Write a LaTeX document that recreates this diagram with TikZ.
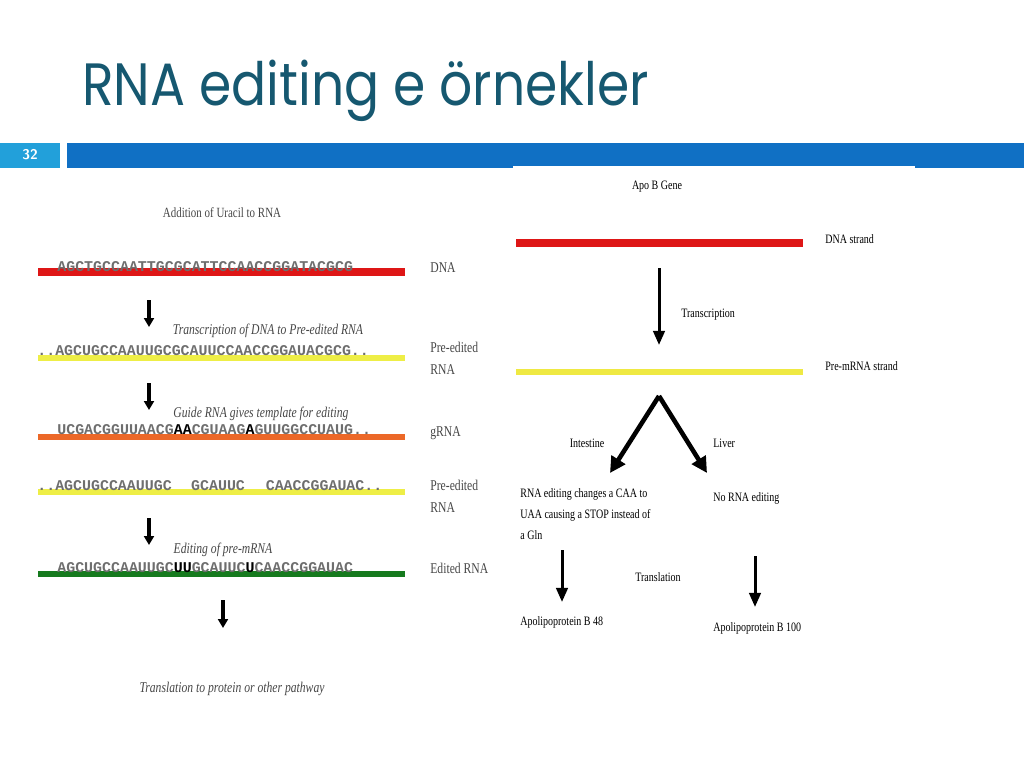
\documentclass[tikz,border=0pt]{standalone}
\usepackage{fontspec}
\setmainfont{Liberation Serif}
\newfontfamily\titlefont[FakeStretch=0.87]{Poppins}
\newfontfamily\narrowfont[FakeStretch=0.78]{Liberation Serif}
\newfontfamily\seqfont{Liberation Mono}
\usepackage{tikz}
\usepackage{xcolor}
\usetikzlibrary{arrows.meta,positioning,calc}

\definecolor{titleblue}{RGB}{22,88,112}
\definecolor{barblue}{RGB}{16,112,196}
\definecolor{numblue}{RGB}{34,160,218}
\definecolor{dnared}{RGB}{222,22,22}
\definecolor{rnayellow}{RGB}{238,238,70}
\definecolor{grnaorange}{RGB}{236,104,40}
\definecolor{editgreen}{RGB}{22,122,30}
\definecolor{seqgray}{RGB}{110,110,110}
\definecolor{labelgray}{RGB}{70,70,70}

\begin{document}
\begin{tikzpicture}[x=0.02cm,y=-0.02cm,
    seq/.style={anchor=base west, inner sep=0pt, text=seqgray, font=\seqfont\bfseries\fontsize{8.5}{10}\selectfont},
    side/.style={anchor=west, inner sep=0pt, text=labelgray, align=left, font=\narrowfont\fontsize{8.5}{12.5}\selectfont},
    note/.style={inner sep=0pt, text=labelgray, font=\narrowfont\itshape\fontsize{8.5}{10}\selectfont},
    txt/.style={anchor=west, inner sep=0pt, align=left, font=\narrowfont\fontsize{7.3}{12}\selectfont},
    strand/.style={line width=#1},
    down/.style={-{Triangle[length=5pt,width=5.5pt]}, line width=1.9pt},
    bigdown/.style={-{Triangle[length=8pt,width=6.5pt]}, line width=1.7pt},
    fork/.style={-{Triangle[length=9pt,width=9pt]}, line width=2.6pt}]
    \useasboundingbox (0,0) rectangle (1024,768);

    % Title and bar
    \node[anchor=base west, inner sep=0pt, text=titleblue, font=\titlefont\fontsize{34}{40}\selectfont] (title) at (82,105) {RNA editing e örnekler};
    \fill[numblue] (0,143) rectangle (60,168);
    \fill[barblue] (67,143) rectangle (1024,168);
    \fill[white] (513,166) rectangle (915,169);
    \node[text=white, font=\sffamily\bfseries\fontsize{8}{9}\selectfont] (slidenum) at (30,155) {32};

    % Left: uracil addition
    \node[note, font=\narrowfont\fontsize{8}{10}\selectfont] (uracil) at (222,213) {Addition of Uracil to RNA};

    \draw[strand=4.5pt, dnared] (38,272) -- (405,272);
    \node[seq] (dnaseq) at (57,271) {AGCTGCCAATTGCGCATTCCAACCGGATACGCG};
    \node[side] (dnalab) at (430,268) {DNA};

    \coordinate (a1top) at (149,300);
    \coordinate (a1tip) at (149,327);
    \draw[down] (a1top) -- (a1tip);
    \node[note] (transnote) at (268,331) {Transcription of DNA to Pre-edited RNA};
    \draw[strand=3.5pt, rnayellow] (38,358) -- (405,358);
    \node[seq] (preseq) at (37,355) {..AGCUGCCAAUUGCGCAUUCCAACCGGAUACGCG..};
    \node[side] (prelab) at (430,358) {Pre-edited\\RNA};

    \coordinate (a2top) at (149,383);
    \coordinate (a2tip) at (149,410);
    \draw[down] (a2top) -- (a2tip);
    \node[note] (guidenote) at (261,414) {Guide RNA gives template for editing};
    \draw[strand=3.5pt, grnaorange] (38,437) -- (405,437);
    \node[seq] (gseq) at (57,434) {UCGACGGUUAACG\textcolor{black}{AA}CGUAAG\textcolor{black}{A}GUUGGCCUAUG..};
    \node[side] (glab) at (430,433) {gRNA};

    \draw[strand=3.5pt, rnayellow] (38,492) -- (405,492);
    \node[seq] (gapseq) at (37,490) {..AGCUGCCAAUUGC\hspace{1.3em}GCAUUC\hspace{1.4em}CAACCGGAUAC..};
    \node[side] (gaplab) at (430,496) {Pre-edited\\RNA};

    \coordinate (a3top) at (149,518);
    \coordinate (a3tip) at (149,545);
    \draw[down] (a3top) -- (a3tip);
    \node[note] (editnote) at (223,550) {Editing of pre-mRNA};
    \draw[strand=3.5pt, editgreen] (38,574) -- (405,574);
    \node[seq] (edseq) at (57,572) {AGCUGCCAAUUGC\textcolor{black}{UU}GCAUUC\textcolor{black}{U}CAACCGGAUAC};
    \node[side] (edlab) at (430,568) {Edited RNA};

    \coordinate (a4top) at (223,600);
    \coordinate (a4tip) at (223,628);
    \draw[down] (a4top) -- (a4tip);
    \node[note] (protnote) at (232,689) {Translation to protein or other pathway};

    % Right: Apo B
    \node[txt, anchor=center] (apob) at (657,187) {Apo B Gene};
    \draw[strand=4pt, dnared] (516,243) -- (803,243);
    \node[txt] (dnastrand) at (825,239) {DNA strand};
    \coordinate (t1top) at (659,268);
    \coordinate (t1tip) at (659,345);
    \draw[bigdown] (t1top) -- (t1tip);
    \node[txt] (transcr) at (681,315) {Transcription};
    \draw[strand=3.5pt, rnayellow!95!orange] (516,372) -- (803,372);
    \node[txt] (prestrand) at (825,366) {Pre-mRNA strand};

    \coordinate (apex) at (659,396);
    \coordinate (lefttip) at (610,473);
    \coordinate (righttip) at (707,473);
    \draw[fork] (apex) -- (lefttip);
    \draw[fork] (apex) -- (righttip);
    \node[txt, anchor=center] (intestine) at (587,443) {Intestine};
    \node[txt] (liver) at (713,443) {Liver};

    \node[txt] (editing) at (520,514) {RNA editing changes a CAA to\\UAA causing a STOP instead of\\a Gln};
    \node[txt] (noedit) at (713,498) {No RNA editing};

    \coordinate (b48top) at (562,550);
    \coordinate (b48tip) at (562,602);
    \draw[bigdown] (b48top) -- (b48tip);
    \coordinate (b100top) at (755,556);
    \coordinate (b100tip) at (755,607);
    \draw[bigdown] (b100top) -- (b100tip);
    \node[txt] (transl) at (635,577) {Translation};
    \node[txt] (apo48) at (520,622) {Apolipoprotein B 48};
    \node[txt] (apo100) at (713,628) {Apolipoprotein B 100};
\end{tikzpicture}
\end{document}
